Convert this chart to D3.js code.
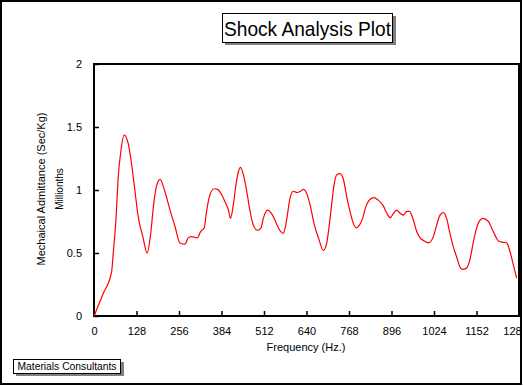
<!DOCTYPE html>
<html>
<head>
<meta charset="utf-8">
<script src="https://cdn.jsdelivr.net/npm/d3@7"></script>
<style>
  body { margin: 0; background: #fff; }
  text { font-family: "Liberation Sans", Arial, sans-serif; fill: #000; }
</style>
</head>
<body>
<svg id="chart" width="523" height="386"></svg>
<script>
// frequency (Hz.) and admittance (millionths)
const freq = [0, 28, 53, 58, 66, 73, 80, 91, 103, 113,
  123, 133, 147, 160, 171, 179, 189, 199, 211, 229,
  244, 259, 274, 284, 294, 311, 321, 332, 339, 349,
  362, 372, 385, 394, 405, 411, 420, 428, 435, 441,
  450, 460, 470, 480, 493, 503, 510, 522, 533, 545,
  555, 570, 580, 590, 600, 612, 622, 631, 641, 651,
  664, 676, 691, 701, 708, 716, 723, 731, 741, 751,
  761, 771, 781, 789, 799, 809, 819, 831, 843, 856,
  870, 882, 892, 902, 912, 922, 932, 942, 950, 962,
  972, 982, 992, 1007, 1022, 1032, 1042, 1052, 1062, 1072,
  1082, 1092, 1102, 1109, 1122, 1132, 1142, 1152, 1161, 1171,
  1188, 1198, 1208, 1218, 1233, 1243, 1253, 1263, 1273]
const admittance = [0, 0.18, 0.35, 0.50, 0.76, 1.105, 1.29, 1.436, 1.37, 1.21,
  1.0, 0.79, 0.63, 0.50, 0.66, 0.87, 1.04, 1.085, 1.01, 0.84,
  0.71, 0.58, 0.57, 0.62, 0.63, 0.62, 0.67, 0.70, 0.83, 0.96,
  1.01, 1.005, 0.96, 0.91, 0.84, 0.775, 0.89, 1.05, 1.145, 1.18,
  1.12, 0.99, 0.83, 0.72, 0.68, 0.70, 0.775, 0.84, 0.82, 0.76,
  0.70, 0.655, 0.76, 0.93, 0.99, 0.98, 0.99, 1.005, 0.97, 0.88,
  0.72, 0.62, 0.52, 0.58, 0.71, 0.89, 1.04, 1.12, 1.13, 1.085,
  0.95, 0.83, 0.735, 0.70, 0.72, 0.775, 0.87, 0.925, 0.94, 0.92,
  0.88, 0.815, 0.78, 0.815, 0.84, 0.815, 0.80, 0.83, 0.83, 0.76,
  0.67, 0.62, 0.60, 0.58, 0.63, 0.72, 0.80, 0.82, 0.775, 0.655,
  0.55, 0.47, 0.39, 0.37, 0.38, 0.445, 0.58, 0.695, 0.755, 0.775,
  0.75, 0.695, 0.64, 0.595, 0.585, 0.58, 0.51, 0.405, 0.30]
const xTicks = [0, 128, 256, 384, 512, 640, 768, 896, 1024, 1152, 1280]
const yTicks = [0, 0.5, 1, 1.5, 2]

const svg = d3.select('#chart')
const plotLeft = 94
const plotRight = 519
const plotTop = 64
const plotBottom = 316

const x = d3.scaleLinear().domain([0, 1280]).range([plotLeft, plotRight])
const y = d3.scaleLinear().domain([0, 2]).range([plotBottom, plotTop])

// labels past the frame get cut, like the original
svg.append('clipPath').attr('id', 'inner')
  .append('rect').attr('x', 0).attr('y', 0).attr('width', 520).attr('height', 386)

// title box with shadow
svg.append('rect').attr('x', 225).attr('y', 16).attr('width', 171).attr('height', 29).attr('fill', '#808080')
svg.append('rect').attr('x', 222.5).attr('y', 13.5).attr('width', 170).attr('height', 29)
  .attr('fill', '#fff').attr('stroke', '#000')
svg.append('text')
  .attr('x', 307.5).attr('y', 36)
  .attr('text-anchor', 'middle')
  .attr('font-size', 21)
  .attr('textLength', 167).attr('lengthAdjust', 'spacingAndGlyphs')
  .text('Shock Analysis Plot')

// axes
const xAxis = d3.axisBottom(x).tickValues(xTicks).tickSizeInner(-5).tickSizeOuter(0).tickPadding(11)
  .tickFormat(d3.format('d'))
const yAxis = d3.axisLeft(y).tickValues(yTicks).tickSizeInner(-5).tickSizeOuter(0).tickPadding(12)
  .tickFormat(d3.format('~g'))

const gx = svg.append('g').attr('clip-path', 'url(#inner)')
  .append('g').attr('transform', `translate(0,${plotBottom})`).call(xAxis)
const gy = svg.append('g').attr('transform', `translate(${plotLeft},0)`).call(yAxis)
for (const g of [gx, gy]) {
  g.select('.domain').remove()
  g.selectAll('line').attr('stroke', '#000').attr('stroke-width', 1.5)
  g.selectAll('text').attr('font-size', 11).attr('font-family', '"Liberation Sans", Arial, sans-serif')
}
// last label sits a bit left in the original
gx.selectAll('.tick text').filter(d => d === 1280).attr('dx', -4)

// plot frame
svg.append('rect')
  .attr('x', plotLeft).attr('y', plotTop)
  .attr('width', plotRight - plotLeft).attr('height', plotBottom - plotTop)
  .attr('fill', 'none').attr('stroke', '#000').attr('stroke-width', 2)

// series
const pts = freq.map((f, i) => [f, admittance[i]])
const line = d3.line()
  .x(d => x(d[0]))
  .y(d => y(d[1]))
  .curve(d3.curveMonotoneX)
svg.append('path')
  .datum(pts)
  .attr('d', line)
  .attr('fill', 'none')
  .attr('stroke', '#ff0000')
  .attr('stroke-width', 1.2)

// axis titles
svg.append('text')
  .attr('x', 306).attr('y', 351)
  .attr('text-anchor', 'middle').attr('font-size', 11)
  .text('Frequency (Hz.)')
svg.append('text')
  .attr('transform', 'translate(45,189) rotate(-90)')
  .attr('text-anchor', 'middle').attr('font-size', 11)
  .text('Mechaical Admittance (Sec/Kg)')
svg.append('text')
  .attr('transform', 'translate(63,189) rotate(-90)')
  .attr('text-anchor', 'middle').attr('font-size', 10)
  .text('Millionths')

// footer box
svg.append('rect').attr('x', 16).attr('y', 362).attr('width', 108).attr('height', 14).attr('fill', '#808080')
svg.append('rect').attr('x', 13.5).attr('y', 359.5).attr('width', 107).attr('height', 14)
  .attr('fill', '#fff').attr('stroke', '#000')
svg.append('text')
  .attr('x', 67).attr('y', 370)
  .attr('text-anchor', 'middle').attr('font-size', 10)
  .attr('textLength', 99).attr('lengthAdjust', 'spacingAndGlyphs')
  .text('Materials Consultants')

// outer frame
svg.append('rect')
  .attr('x', 1).attr('y', 1)
  .attr('width', 520).attr('height', 383)
  .attr('fill', 'none').attr('stroke', '#000').attr('stroke-width', 2)
</script>
</body>
</html>
